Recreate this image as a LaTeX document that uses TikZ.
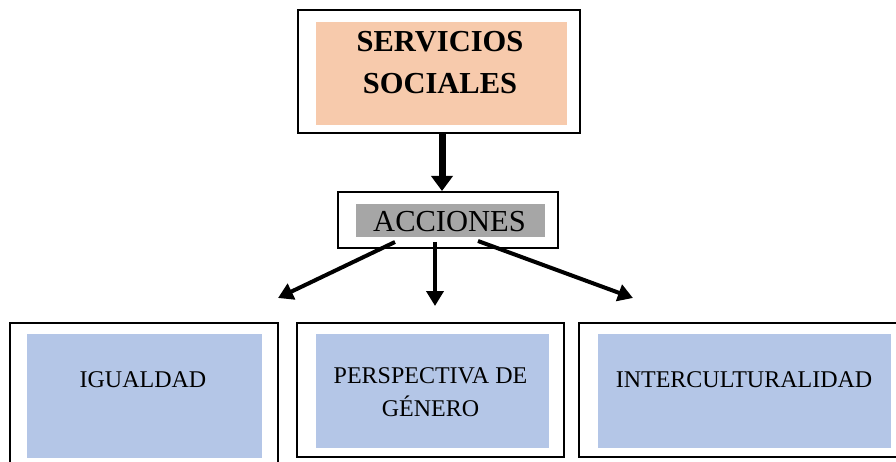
\documentclass[tikz,border=0pt]{standalone}
\usepackage{fontspec}
\setmainfont{Liberation Serif}
\usetikzlibrary{arrows.meta}
\definecolor{peach}{HTML}{F7CAAC}
\definecolor{accgray}{HTML}{A6A6A6}
\definecolor{paleblue}{HTML}{B4C6E7}
\begin{document}
\begin{tikzpicture}[x=1pt,y=-1pt,
  outerbox/.style={draw=black, line width=2pt, fill=white, rectangle, inner sep=0pt},
  fillbox/.style={rectangle, inner sep=0pt, draw=none},
  lbl/.style={inner sep=0pt, align=center},
  bigarrow/.style={line width=7pt, -{Triangle[width=21pt,length=15pt]}},
  smallarrow/.style={line width=4pt, -{Triangle[width=17pt,length=15pt]}}]
\useasboundingbox (0,0) rectangle (896,462);
% top
\node[outerbox, minimum width=282pt, minimum height=123pt] (topouter) at (439,71.5) {};
\node[fillbox, fill=peach, minimum width=251pt, minimum height=103pt] (topinner) at (441.5,73.5) {};
\node[lbl, font=\fontsize{30.5}{42}\selectfont\bfseries] (toptext) at (440,62.5) {SERVICIOS\\SOCIALES};
% acciones
\node[outerbox, minimum width=220pt, minimum height=56pt] (accouter) at (448,220) {};
\node[fillbox, fill=accgray, minimum width=189pt, minimum height=33pt] (accinner) at (450.5,220.5) {};
\node[lbl, font=\fontsize{30.5}{34}\selectfont, anchor=base] (acctext) at (449.5,232) {ACCIONES};
% bottom left
\node[outerbox, minimum width=268pt, minimum height=152pt] (leftouter) at (144,399) {};
\node[fillbox, fill=paleblue, minimum width=235pt, minimum height=124pt] (leftinner) at (144.5,396) {};
\node[lbl, font=\fontsize{24}{33}\selectfont, anchor=base] (lefttext) at (143,387) {IGUALDAD};
% bottom middle
\node[outerbox, minimum width=267pt, minimum height=134pt] (midouter) at (430.5,390) {};
\node[fillbox, fill=paleblue, minimum width=233pt, minimum height=114pt] (midinner) at (432.5,391) {};
\node[lbl, font=\fontsize{24}{33}\selectfont] (midtext) at (430.5,392.5) {PERSPECTIVA DE\\GÉNERO};
% bottom right
\node[outerbox, minimum width=326pt, minimum height=134pt] (rightouter) at (742,390) {};
\node[fillbox, fill=paleblue, minimum width=293pt, minimum height=114pt] (rightinner) at (744.5,391) {};
\node[lbl, font=\fontsize{24}{33}\selectfont, anchor=base] (righttext) at (744,387) {INTERCULTURALIDAD};
% arrows
\draw[bigarrow] ([xshift=3pt]topouter.south) -- ([xshift=-6pt]accouter.north);
\coordinate (endl) at (278,298);
\coordinate (endm) at (435,306);
\coordinate (endr) at (633,298);
\draw[smallarrow] ([xshift=-53pt,yshift=7pt]accouter.south) -- (endl);
\draw[smallarrow] ([xshift=-13pt,yshift=7pt]accouter.south) -- (endm);
\draw[smallarrow] ([xshift=30pt,yshift=8pt]accouter.south) -- (endr);
\end{tikzpicture}
\end{document}
